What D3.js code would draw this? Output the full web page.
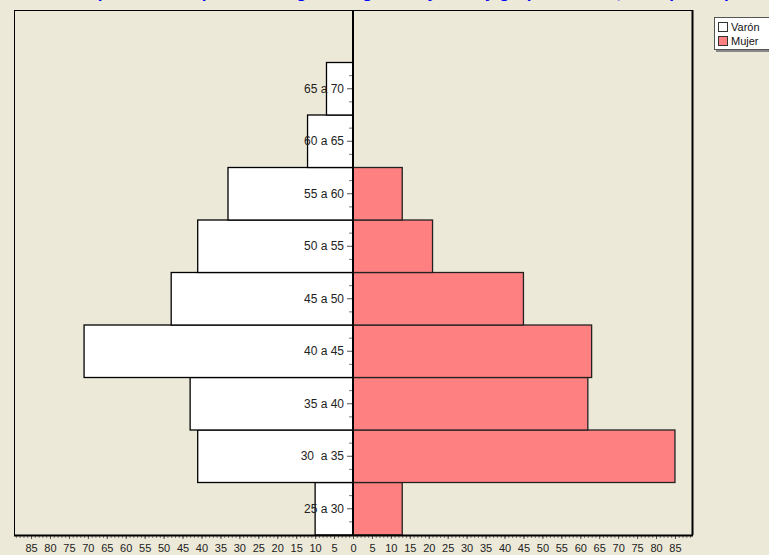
<!DOCTYPE html>
<html>
<head>
<meta charset="utf-8">
<script src="https://cdn.jsdelivr.net/npm/d3@7"></script>
<style>
body{margin:0;background:#ECE9D8;}
svg{display:block;font-family:"Liberation Sans",Arial,sans-serif;}
</style>
</head>
<body>
<svg></svg>
<script>
// datos de la piramide
var edades=['25 a 30','30  a 35','35 a 40','40 a 45','45 a 50','50 a 55','55 a 60','60 a 65','65 a 70'];
var varon=[10,41,43,71,48,41,33,12,7];
var mujer=[13,85,62,63,45,21,13,0,0];
var ticksX=[-85,-80,-75,-70,-65,-60,-55,-50,-45,-40,-35,-30,-25,-20,-15,-10,-5,0,5,10,15,20,25,30,35,40,45,50,55,60,65,70,75,80,85];
var series=['Varón','Mujer'];
var colores=['#FFFFFF','#FF8080'];

var width=769;
var height=555;
var pLeft=14,pRight=692,pTop=10,pBottom=535;

var svg=d3.select('svg').attr('width',width).attr('height',height);

svg.append('rect').attr('width',width).attr('height',height).attr('fill','#ECE9D8');

// titulo (queda cortado arriba)
svg.append('text')
	.attr('x',60)
	.attr('y',-2)
	.attr('fill','#0000FF')
	.style('font-size','17px')
	.style('font-weight','bold')
	.text('Composición del personal según antigüedad y sexo y grupo de edad, en la planta permanente por año');

var xScale=d3.scaleLinear()
	.domain([-89.5,89.5])
	.range([pLeft,pRight]);

var band=(pBottom-pTop)/(edades.length+1);
var yScale=d3.scaleBand()
	.domain(edades)
	.range([pBottom,pTop+band]);

var datos=edades.map((e,i)=>({edad:e,v:varon[i],m:mujer[i]}));

svg.append('rect')
	.attr('x',pLeft+0.5).attr('y',pTop+0.5)
	.attr('width',pRight-pLeft).attr('height',pBottom-pTop)
	.attr('fill','#ECE9D8')
	.attr('stroke','#000');

// barras varon
svg.selectAll('rect.varon')
	.data(datos.filter(d=>d.v>0))
	.enter()
	.append('rect')
		.attr('class','varon')
		.attr('x',d=>xScale(-d.v))
		.attr('y',d=>yScale(d.edad))
		.attr('width',d=>xScale(0)-xScale(-d.v))
		.attr('height',yScale.bandwidth())
		.attr('fill',colores[0])
		.attr('stroke','#000')
		.attr('stroke-width',1.3);

// barras mujer
svg.selectAll('rect.mujer')
	.data(datos.filter(d=>d.m>0))
	.enter()
	.append('rect')
		.attr('class','mujer')
		.attr('x',xScale(0))
		.attr('y',d=>yScale(d.edad))
		.attr('width',d=>xScale(d.m)-xScale(0))
		.attr('height',yScale.bandwidth())
		.attr('fill',colores[1])
		.attr('stroke','#222')
		.attr('stroke-width',1.3);

// eje x: ticks menores y mayores
var xMinor=d3.axisBottom(xScale)
	.tickValues(d3.range(-89,90))
	.tickFormat('')
	.tickSize(3)
	.tickSizeOuter(0);
var gMinor=svg.append('g')
	.attr('transform','translate(0,'+pBottom+')')
	.call(xMinor);
gMinor.select('.domain').remove();
gMinor.selectAll('line').attr('stroke','#777');

var xAxis=d3.axisBottom(xScale)
	.tickValues(ticksX)
	.tickFormat(d=>Math.abs(d))
	.tickSize(4)
	.tickPadding(5)
	.tickSizeOuter(0);
var gx=svg.append('g')
	.attr('transform','translate(0,'+pBottom+')')
	.call(xAxis);
gx.select('.domain').remove();
gx.selectAll('line').attr('stroke','#555');
gx.selectAll('text').attr('fill','#222').style('font-size','11px').style('font-family','"Liberation Sans",Arial,sans-serif');

// eje y en el cero
svg.append('line')
	.attr('x1',xScale(0)).attr('x2',xScale(0))
	.attr('y1',pTop).attr('y2',pBottom)
	.attr('stroke','#000').attr('stroke-width',2);

var yMinor=svg.append('g');
edades.forEach(function(e){
	var y0=yScale(e);
	[0.25,0.75].forEach(function(f){
		yMinor.append('line')
			.attr('x1',xScale(0)-4).attr('x2',xScale(0)-1)
			.attr('y1',y0+f*yScale.bandwidth()).attr('y2',y0+f*yScale.bandwidth())
			.attr('stroke','#777');
	});
});

var yAxis=d3.axisLeft(yScale)
	.tickSize(5)
	.tickPadding(3)
	.tickSizeOuter(0);
var gy=svg.append('g')
	.attr('transform','translate('+(xScale(0)-1)+',0)')
	.call(yAxis);
gy.select('.domain').remove();
gy.selectAll('line').attr('stroke','#555');
gy.selectAll('text')
	.attr('fill','#222')
	.style('font-size','12px')
	.style('white-space','pre')
	.style('font-family','"Liberation Sans",Arial,sans-serif');

// bordes gruesos abajo y a la derecha
svg.append('line')
	.attr('x1',pLeft).attr('x2',pRight+1)
	.attr('y1',pBottom+0.5).attr('y2',pBottom+0.5)
	.attr('stroke','#000').attr('stroke-width',2);
svg.append('line')
	.attr('x1',pRight+0.5).attr('x2',pRight+0.5)
	.attr('y1',pTop).attr('y2',pBottom)
	.attr('stroke','#000').attr('stroke-width',2);

// leyenda
var leg=svg.append('g').attr('transform','translate(714,17)');
leg.append('rect')
	.attr('x',2).attr('y',2).attr('width',60).attr('height',33)
	.attr('fill','#888');
leg.append('rect')
	.attr('x',0.5).attr('y',0.5).attr('width',60).attr('height',32)
	.attr('fill','#fff').attr('stroke','#555');
series.forEach(function(s,i){
	leg.append('rect')
		.attr('x',4.5).attr('y',5.5+i*14)
		.attr('width',9).attr('height',9)
		.attr('fill',colores[i]).attr('stroke','#333');
	leg.append('text')
		.attr('x',17).attr('y',14+i*14)
		.attr('fill','#111')
		.style('font-size','11px')
		.text(s);
});
</script>
</body>
</html>
